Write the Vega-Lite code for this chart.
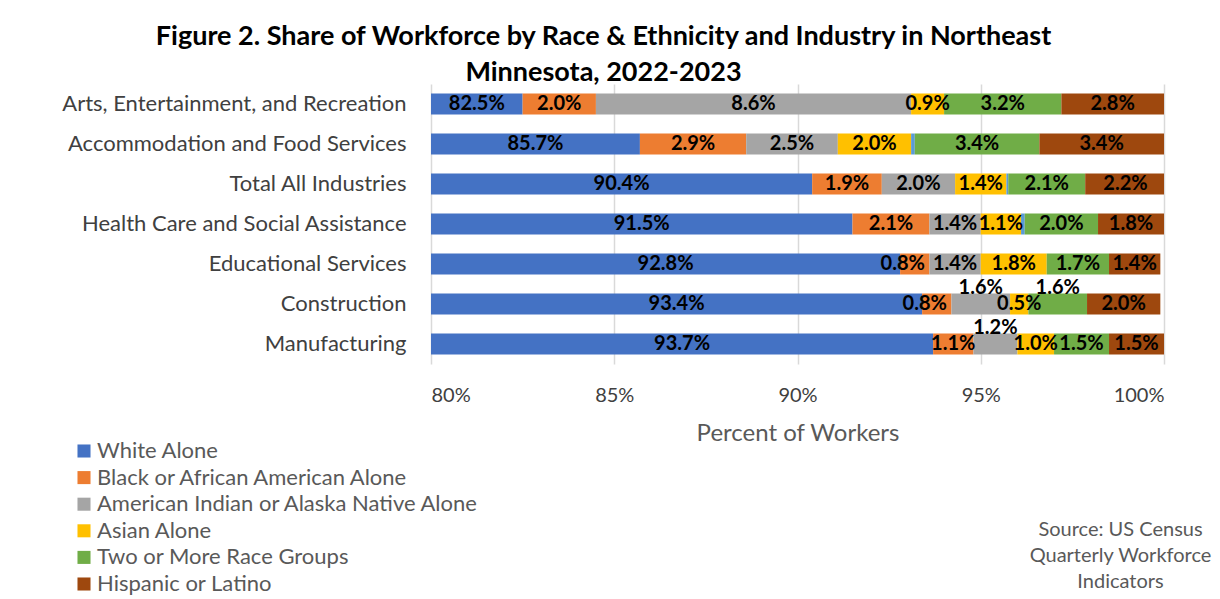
{
  "$schema": "https://vega.github.io/schema/vega-lite/v6.json",
  "width": 733,
  "height": 280,
  "autosize": {"type": "none"},
  "padding": {"left": 431, "top": 84, "right": 56, "bottom": 235},
  "background": "white",
  "title": {
    "text": ["Figure 2. Share of Workforce by Race & Ethnicity and Industry in Northeast", "Minnesota, 2022-2023"],
    "anchor": "middle",
    "dx": -194,
    "offset": -3,
    "font": "Lato",
    "fontSize": 27,
    "fontWeight": "bold",
    "color": "#000000",
    "lineHeight": 36
  },
  "config": {
    "view": {"stroke": null},
    "font": "Lato"
  },
  "data": {
    "values": [
      {"industry": "Arts, Entertainment, and Recreation", "race": "White Alone", "value": 82.5},
      {"industry": "Arts, Entertainment, and Recreation", "race": "Black or African American Alone", "value": 2.0},
      {"industry": "Arts, Entertainment, and Recreation", "race": "American Indian or Alaska Native Alone", "value": 8.6},
      {"industry": "Arts, Entertainment, and Recreation", "race": "Asian Alone", "value": 0.9},
      {"industry": "Arts, Entertainment, and Recreation", "race": "Two or More Race Groups", "value": 3.2},
      {"industry": "Arts, Entertainment, and Recreation", "race": "Hispanic or Latino", "value": 2.8},
      {"industry": "Accommodation and Food Services", "race": "White Alone", "value": 85.7},
      {"industry": "Accommodation and Food Services", "race": "Black or African American Alone", "value": 2.9},
      {"industry": "Accommodation and Food Services", "race": "American Indian or Alaska Native Alone", "value": 2.5},
      {"industry": "Accommodation and Food Services", "race": "Asian Alone", "value": 2.0},
      {"industry": "Accommodation and Food Services", "race": "Native Hawaiian or Other Pacific Islander Alone", "value": 0.1},
      {"industry": "Accommodation and Food Services", "race": "Two or More Race Groups", "value": 3.4},
      {"industry": "Accommodation and Food Services", "race": "Hispanic or Latino", "value": 3.4},
      {"industry": "Total All Industries", "race": "White Alone", "value": 90.4},
      {"industry": "Total All Industries", "race": "Black or African American Alone", "value": 1.9},
      {"industry": "Total All Industries", "race": "American Indian or Alaska Native Alone", "value": 2.0},
      {"industry": "Total All Industries", "race": "Asian Alone", "value": 1.4},
      {"industry": "Total All Industries", "race": "Native Hawaiian or Other Pacific Islander Alone", "value": 0.05},
      {"industry": "Total All Industries", "race": "Two or More Race Groups", "value": 2.1},
      {"industry": "Total All Industries", "race": "Hispanic or Latino", "value": 2.2},
      {"industry": "Health Care and Social Assistance", "race": "White Alone", "value": 91.5},
      {"industry": "Health Care and Social Assistance", "race": "Black or African American Alone", "value": 2.1},
      {"industry": "Health Care and Social Assistance", "race": "American Indian or Alaska Native Alone", "value": 1.4},
      {"industry": "Health Care and Social Assistance", "race": "Asian Alone", "value": 1.1},
      {"industry": "Health Care and Social Assistance", "race": "Native Hawaiian or Other Pacific Islander Alone", "value": 0.1},
      {"industry": "Health Care and Social Assistance", "race": "Two or More Race Groups", "value": 2.0},
      {"industry": "Health Care and Social Assistance", "race": "Hispanic or Latino", "value": 1.8},
      {"industry": "Educational Services", "race": "White Alone", "value": 92.8},
      {"industry": "Educational Services", "race": "Black or African American Alone", "value": 0.8},
      {"industry": "Educational Services", "race": "American Indian or Alaska Native Alone", "value": 1.4},
      {"industry": "Educational Services", "race": "Asian Alone", "value": 1.8},
      {"industry": "Educational Services", "race": "Two or More Race Groups", "value": 1.7},
      {"industry": "Educational Services", "race": "Hispanic or Latino", "value": 1.4},
      {"industry": "Construction", "race": "White Alone", "value": 93.4},
      {"industry": "Construction", "race": "Black or African American Alone", "value": 0.8},
      {"industry": "Construction", "race": "American Indian or Alaska Native Alone", "value": 1.6},
      {"industry": "Construction", "race": "Asian Alone", "value": 0.5},
      {"industry": "Construction", "race": "Two or More Race Groups", "value": 1.6},
      {"industry": "Construction", "race": "Hispanic or Latino", "value": 2.0},
      {"industry": "Manufacturing", "race": "White Alone", "value": 93.7},
      {"industry": "Manufacturing", "race": "Black or African American Alone", "value": 1.1},
      {"industry": "Manufacturing", "race": "American Indian or Alaska Native Alone", "value": 1.2},
      {"industry": "Manufacturing", "race": "Asian Alone", "value": 1.0},
      {"industry": "Manufacturing", "race": "Two or More Race Groups", "value": 1.5},
      {"industry": "Manufacturing", "race": "Hispanic or Latino", "value": 1.5}
    ]
  },
  "transform": [
    {"calculate": "indexof(['White Alone','Black or African American Alone','American Indian or Alaska Native Alone','Asian Alone','Native Hawaiian or Other Pacific Islander Alone','Two or More Race Groups','Hispanic or Latino'], datum.race)", "as": "ord"},
    {"stack": "value", "groupby": ["industry"], "sort": [{"field": "ord", "order": "ascending"}], "as": ["x0", "x1"]},
    {"calculate": "(max(datum.x0, 80) + datum.x1) / 2", "as": "mid"},
    {"calculate": "format(datum.value, '.1f') + '%'", "as": "label"},
    {"calculate": "(datum.industry == 'Construction' && (datum.race == 'American Indian or Alaska Native Alone' || datum.race == 'Two or More Race Groups')) || (datum.industry == 'Manufacturing' && datum.race == 'American Indian or Alaska Native Alone') ? 1 : 0", "as": "raised"},
    {"calculate": "(datum.industry == 'Educational Services' || datum.industry == 'Construction') && datum.race == 'Black or African American Alone' ? 1 : 0", "as": "nudged"}
  ],
  "encoding": {
    "y": {
      "field": "industry",
      "type": "nominal",
      "sort": ["Arts, Entertainment, and Recreation", "Accommodation and Food Services", "Total All Industries", "Health Care and Social Assistance", "Educational Services", "Construction", "Manufacturing"],
      "scale": {"paddingInner": 0.475, "paddingOuter": 0.2375},
      "axis": {
        "title": ["Source: US Census", "Quarterly Workforce", "Indicators"],
        "titleAngle": 0,
        "titleX": 689,
        "titleY": 435,
        "titleAlign": "center",
        "titleBaseline": "top",
        "titleFont": "Lato",
        "titleFontSize": 20,
        "titleFontWeight": "normal",
        "titleColor": "#595959",
        "titleLineHeight": 26,
        "domain": false,
        "ticks": false,
        "grid": false,
        "labelPadding": 25,
        "labelFont": "Lato",
        "labelFontSize": 22,
        "labelColor": "#404040",
        "labelLimit": 500
      }
    }
  },
  "layer": [
    {
      "mark": {"type": "bar", "clip": true},
      "encoding": {
        "x": {
          "field": "x0",
          "type": "quantitative",
          "scale": {"domain": [80, 100], "nice": false, "zero": false},
          "axis": {
            "title": "Percent of Workers",
            "values": [80, 85, 90, 95, 100],
            "labelExpr": "datum.value + '%'",
            "domain": false,
            "ticks": false,
            "grid": true,
            "gridColor": "#d9d9d9",
            "gridWidth": 1.5,
            "labelPadding": 21,
            "labelFont": "Lato",
            "labelFontSize": 20,
            "labelColor": "#404040",
            "titleFont": "Lato",
            "titleFontSize": 24,
            "titleFontWeight": "normal",
            "titleColor": "#595959",
            "titlePadding": 16
          }
        },
        "x2": {"field": "x1"},
        "color": {
          "field": "race",
          "type": "nominal",
          "scale": {
            "domain": ["White Alone", "Black or African American Alone", "American Indian or Alaska Native Alone", "Asian Alone", "Native Hawaiian or Other Pacific Islander Alone", "Two or More Race Groups", "Hispanic or Latino"],
            "range": ["#4472C4", "#ED7D31", "#A5A5A5", "#FFC000", "#5B9BD5", "#70AD47", "#9E480E"]
          },
          "legend": {
            "title": null,
            "orient": "none",
            "legendX": -358,
            "legendY": 356,
            "values": ["White Alone", "Black or African American Alone", "American Indian or Alaska Native Alone", "Asian Alone", "Two or More Race Groups", "Hispanic or Latino"],
            "symbolType": "square",
            "symbolSize": 170,
            "symbolStrokeWidth": 0,
            "labelFont": "Lato",
            "labelFontSize": 22,
            "labelColor": "#595959",
            "labelOffset": 2,
            "rowPadding": 4.6,
            "labelLimit": 500
          }
        }
      }
    },
    {
      "transform": [{"filter": "datum.ord != 4 && datum.raised == 0 && datum.nudged == 0"}],
      "mark": {"type": "text", "font": "Lato", "fontSize": 20, "fontWeight": "bold", "color": "#000000", "baseline": "middle", "align": "center"},
      "encoding": {
        "x": {"field": "mid", "type": "quantitative"},
        "text": {"field": "label"}
      }
    },
    {
      "transform": [{"filter": "datum.nudged == 1"}],
      "mark": {"type": "text", "font": "Lato", "fontSize": 20, "fontWeight": "bold", "color": "#000000", "baseline": "middle", "align": "center", "dx": -12},
      "encoding": {
        "x": {"field": "mid", "type": "quantitative"},
        "text": {"field": "label"}
      }
    },
    {
      "transform": [{"filter": "datum.raised == 1"}],
      "mark": {"type": "text", "font": "Lato", "fontSize": 20, "fontWeight": "bold", "color": "#000000", "baseline": "middle", "align": "center", "dy": -16},
      "encoding": {
        "x": {"field": "mid", "type": "quantitative"},
        "text": {"field": "label"}
      }
    }
  ]
}
